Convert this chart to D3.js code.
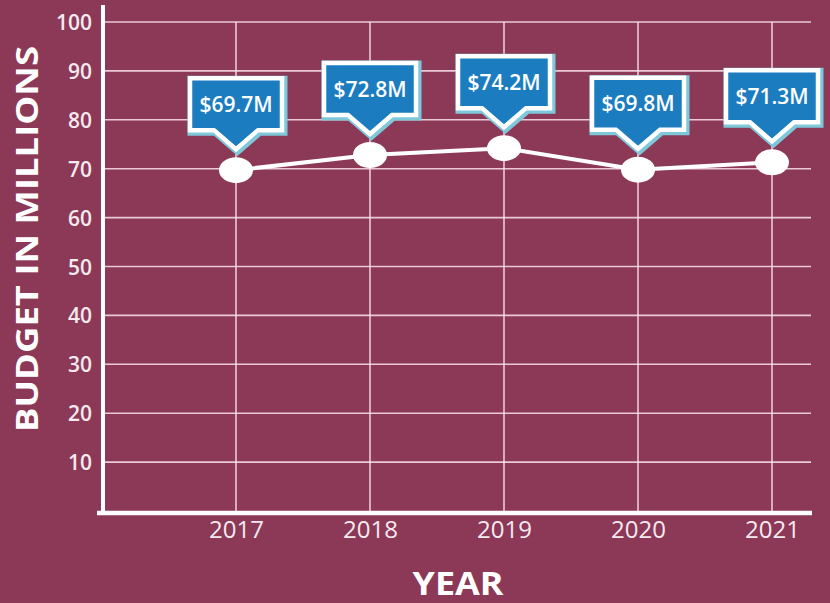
<!DOCTYPE html>
<html>
<head>
<meta charset="utf-8">
<script src="https://cdn.jsdelivr.net/npm/d3@7"></script>
<style>
  html, body { margin: 0; padding: 0; background: #8c3857; }
  svg { display: block; }
</style>
</head>
<body>
<svg id="chart" width="830" height="603"></svg>
<script>
// Annual budget, in millions of dollars
const years = ["2017", "2018", "2019", "2020", "2021"];
const budget = [69.7, 72.8, 74.2, 69.8, 71.3];
const budgetLabels = ["$69.7M", "$72.8M", "$74.2M", "$69.8M", "$71.3M"];
const yTicks = [10, 20, 30, 40, 50, 60, 70, 80, 90, 100];

const W = 830, H = 603;
const bg = "#8c3857";
const ink = "#f6eaf0";
const grid = "rgba(250,228,238,0.85)";

const svg = d3.select("#chart");
svg.append("rect").attr("width", W).attr("height", H).attr("fill", bg);

const x = d3.scalePoint().domain(years).range([236, 772]);
const y = d3.scaleLinear().domain([0, 100]).range([511, 22]);

const plotLeft = 103, plotRight = 811;

// horizontal gridlines
svg.append("g")
  .selectAll("line")
  .data(yTicks)
  .join("line")
  .attr("x1", plotLeft).attr("x2", plotRight)
  .attr("y1", d => y(d)).attr("y2", d => y(d))
  .attr("stroke", grid).attr("stroke-width", 1.6);

// vertical gridlines
svg.append("g")
  .selectAll("line")
  .data(years)
  .join("line")
  .attr("x1", d => x(d)).attr("x2", d => x(d))
  .attr("y1", y(100)).attr("y2", y(0))
  .attr("stroke", grid).attr("stroke-width", 1.6);

// y axis: tick labels only, axis line drawn separately
const yAxis = d3.axisLeft(y).tickValues(yTicks).tickSize(0).tickPadding(11);
const gy = svg.append("g").attr("transform", `translate(${plotLeft},0)`).call(yAxis);
gy.select(".domain").remove();
gy.selectAll("text")
  .attr("fill", ink)
  .attr("font-family", "'Open Sans', sans-serif")
  .attr("font-weight", 600)
  .attr("font-size", 21)
  .attr("dy", "0.36em");

// x axis: tick labels
const xAxis = d3.axisBottom(x).tickSize(0).tickPadding(12);
const gx = svg.append("g").attr("transform", `translate(0,${y(0)})`).call(xAxis);
gx.select(".domain").remove();
gx.selectAll("text")
  .attr("fill", ink)
  .attr("font-family", "'Open Sans', sans-serif")
  .attr("font-size", 24)
  .attr("dy", "0.62em");

// axis lines
svg.append("line")
  .attr("x1", plotLeft).attr("x2", plotLeft)
  .attr("y1", 5).attr("y2", 515)
  .attr("stroke", "#ffffff").attr("stroke-width", 4);
svg.append("line")
  .attr("x1", 97).attr("x2", 812)
  .attr("y1", 513).attr("y2", 513)
  .attr("stroke", "#ffffff").attr("stroke-width", 4.5);

// axis titles
svg.append("text")
  .attr("transform", "translate(38,239) rotate(-90)")
  .attr("text-anchor", "middle")
  .attr("fill", "#ffffff")
  .attr("font-family", "'Open Sans', sans-serif")
  .attr("font-weight", 700)
  .attr("font-size", 31)
  .attr("textLength", 386)
  .attr("lengthAdjust", "spacingAndGlyphs")
  .text("BUDGET IN MILLIONS");

svg.append("text")
  .attr("x", 458).attr("y", 595)
  .attr("text-anchor", "middle")
  .attr("fill", "#ffffff")
  .attr("font-family", "'Open Sans', sans-serif")
  .attr("font-weight", 700)
  .attr("font-size", 32)
  .attr("textLength", 91)
  .attr("lengthAdjust", "spacingAndGlyphs")
  .text("YEAR");

const pts = years.map((yr, i) => ({ year: yr, value: budget[i], label: budgetLabels[i] }));

// connecting line
svg.append("path")
  .datum(pts)
  .attr("d", d3.line().x(d => x(d.year)).y(d => y(d.value)))
  .attr("fill", "none")
  .attr("stroke", "#ffffff")
  .attr("stroke-width", 4);

// markers
svg.append("g")
  .selectAll("ellipse")
  .data(pts)
  .join("ellipse")
  .attr("cx", d => x(d.year)).attr("cy", d => y(d.value))
  .attr("rx", 17).attr("ry", 13)
  .attr("fill", "#ffffff");

// callout shape, tip at (0,0)
const calloutPath = (() => {
  const p = d3.path();
  const hw = 46, top = -71, base = -19, pw = 22;
  p.moveTo(-hw, top);
  p.lineTo(hw, top);
  p.lineTo(hw, base);
  p.lineTo(pw, base);
  p.lineTo(0, 0);
  p.lineTo(-pw, base);
  p.lineTo(-hw, base);
  p.closePath();
  return p.toString();
})();

const callouts = svg.append("g")
  .selectAll("g")
  .data(pts)
  .join("g")
  .attr("transform", d => `translate(${x(d.year)},${y(d.value) - 21})`);

callouts.append("path")
  .attr("d", calloutPath)
  .attr("transform", "translate(1.5,1.5)")
  .attr("fill", "#7fc8da")
  .attr("stroke", "#7fc8da")
  .attr("stroke-width", 8)
  .attr("stroke-linejoin", "miter");

callouts.append("path")
  .attr("d", calloutPath)
  .attr("fill", "#1b7cc0")
  .attr("stroke", "#ffffff")
  .attr("stroke-width", 4.5)
  .attr("stroke-linejoin", "miter");

callouts.append("text")
  .attr("x", 0).attr("y", -45)
  .attr("text-anchor", "middle")
  .attr("dy", "0.36em")
  .attr("fill", "#ffffff")
  .attr("font-family", "'Open Sans', sans-serif")
  .attr("font-weight", 600)
  .attr("font-size", 21)
  .text(d => d.label);
</script>
</body>
</html>
